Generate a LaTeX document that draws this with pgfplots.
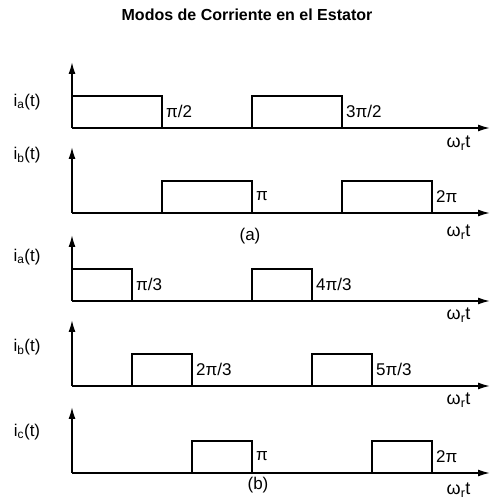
\documentclass[border=0pt]{standalone}
\usepackage{fontspec}
\setmainfont{Liberation Sans}
\usepackage{pgfplots}
\pgfplotsset{compat=1.18}
\usetikzlibrary{arrows.meta}

% one panel: x in units of pi, 1 pi = 180pt, origin of y axis at x=72pt
\pgfplotsset{
  pulse/.style={
    scale only axis, width=418pt, height=66pt,
    xmin=0, xmax=2.322, ymin=0, ymax=2.05,
    axis x line=bottom, axis y line=left,
    axis line style={line width=1.6pt, -{Latex[length=12pt,width=7pt]}},
    xtick=\empty, ytick=\empty, clip=false,
    anchor=south west,
  },
  sig/.style={black, line width=1.6pt, line join=miter},
}
\newcommand{\lbl}[2]{\node[anchor=west, font=\fontsize{17}{19}\selectfont, inner sep=0pt, xshift=4pt] at (axis cs:#1,0.52) {#2};}

\begin{document}
\begin{tikzpicture}
\path (0pt,0pt) rectangle (490pt,502pt);
\node[font=\bfseries\fontsize{16}{18}\selectfont] at (247pt,487pt) {Modos de Corriente en el Estator};

% (a) i_a
\begin{axis}[pulse, at={(72pt,374pt)}]
\addplot[sig] coordinates {(0,1) (0.5,1) (0.5,0) (1,0) (1,1) (1.5,1) (1.5,0)};
\lbl{0.5}{π/2}\lbl{1.5}{3π/2}
\end{axis}
% (a) i_b
\begin{axis}[pulse, at={(72pt,289pt)}]
\addplot[sig] coordinates {(0,0) (0.5,0) (0.5,1) (1,1) (1,0) (1.5,0) (1.5,1) (2,1) (2,0)};
\lbl{1}{π}\lbl{2}{2π}
\end{axis}
% (b) i_a
\begin{axis}[pulse, at={(72pt,201pt)}]
\addplot[sig] coordinates {(0,1) (0.3333,1) (0.3333,0) (1,0) (1,1) (1.3333,1) (1.3333,0)};
\lbl{0.3333}{π/3}\lbl{1.3333}{4π/3}
\end{axis}
% (b) i_b
\begin{axis}[pulse, at={(72pt,116pt)}]
\addplot[sig] coordinates {(0,0) (0.3333,0) (0.3333,1) (0.6667,1) (0.6667,0) (1.3333,0) (1.3333,1) (1.6667,1) (1.6667,0)};
\lbl{0.6667}{2π/3}\lbl{1.6667}{5π/3}
\end{axis}
% (b) i_c
\begin{axis}[pulse, at={(72pt,29pt)}]
\addplot[sig] coordinates {(0,0) (0.6667,0) (0.6667,1) (1,1) (1,0) (1.6667,0) (1.6667,1) (2,1) (2,0)};
\lbl{1}{π}\lbl{2}{2π}
\end{axis}

\begin{scope}[font=\fontsize{17}{19}\selectfont]
\node at (27pt,400pt) {i\textsubscript{a}(t)};
\node at (27pt,347pt) {i\textsubscript{b}(t)};
\node at (27pt,245pt) {i\textsubscript{a}(t)};
\node at (27pt,155pt) {i\textsubscript{b}(t)};
\node at (27pt,70pt) {i\textsubscript{c}(t)};
\foreach \y in {359,270,187,102,12} \node[anchor=east, font=\fontsize{18}{20}\selectfont] at (474pt,\y pt) {ω\textsubscript{r}t};
\node at (250pt,266pt) {(a)};
\node at (258pt,17pt) {(b)};
\end{scope}
\end{tikzpicture}
\end{document}
